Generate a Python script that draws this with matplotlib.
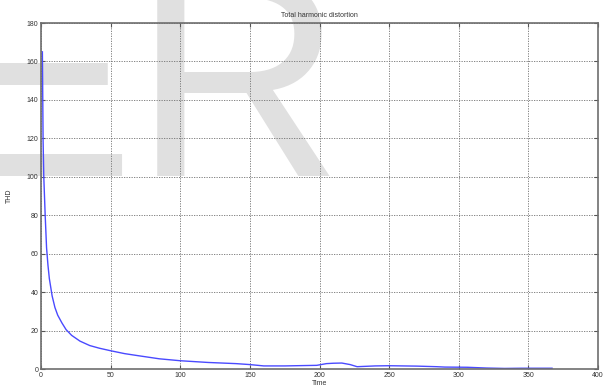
import matplotlib
matplotlib.use('Agg')
import matplotlib.pyplot as plt

# THD samples over time
time = [1, 1.5, 2, 3, 4, 5, 6, 8, 10, 12, 15, 18, 22, 28, 35, 42, 50, 60, 70,
        85, 100, 120, 140, 150, 160, 175, 190, 198, 205, 210, 216, 222, 227,
        240, 250, 270, 284, 290, 306, 320, 333, 345, 360, 367]
thd = [165, 119, 100, 80, 63, 54, 47, 38, 32, 28, 24, 20.5, 17.5, 14.5, 12.2,
       10.8, 9.5, 8.0, 6.9, 5.3, 4.3, 3.4, 2.8, 2.3, 1.6, 1.6, 1.8, 1.9, 2.8,
       3.0, 3.1, 2.3, 1.2, 1.6, 1.7, 1.5, 1.2, 1.0, 0.9, 0.5, 0.3, 0.4, 0.4, 0.4]

x_ticks = [0, 50, 100, 150, 200, 250, 300, 350, 400]
y_ticks = [0, 20, 40, 60, 80, 100, 120, 140, 160, 180]

plt.rcParams['font.family'] = ['Liberation Sans', 'DejaVu Sans']
text_color = '#333333'

fig = plt.figure(figsize=(6.1, 3.89), dpi=100)

# faint background lettering, kept behind the axes
fig.text(-60 / 610, 1 - 176 / 389, 'ER', fontsize=209, color='#e0e0e0',
         va='baseline', ha='left', zorder=-5)

ax = fig.add_axes([41 / 610, 1 - 369 / 389, 557 / 610, 346 / 389])
ax.set_zorder(1)
ax.set_facecolor('none')
ax.plot(time, thd, color='#4a4aff', linewidth=1.0)

ax.set_xlim(0, 400)
ax.set_ylim(0, 180)
ax.set_xticks(x_ticks)
ax.set_yticks(y_ticks)
ax.tick_params(direction='in', length=3, width=0.8, labelsize=5,
               top=True, right=True, colors='#555555', labelcolor=text_color, pad=2)
for s in ax.spines.values():
    s.set_color('#6e6e6e')
    s.set_linewidth(1.2)
ax.grid(True, linestyle=(0, (1.5, 1.5)), color='#707070', linewidth=0.6)

ax.set_title('Total harmonic distortion', fontsize=5, color=text_color, pad=4)
ax.set_xlabel('Time', fontsize=5, color=text_color, labelpad=1)
ax.set_ylabel('THD', fontsize=5, color=text_color, labelpad=10)

fig.savefig('out.png', dpi=100)
